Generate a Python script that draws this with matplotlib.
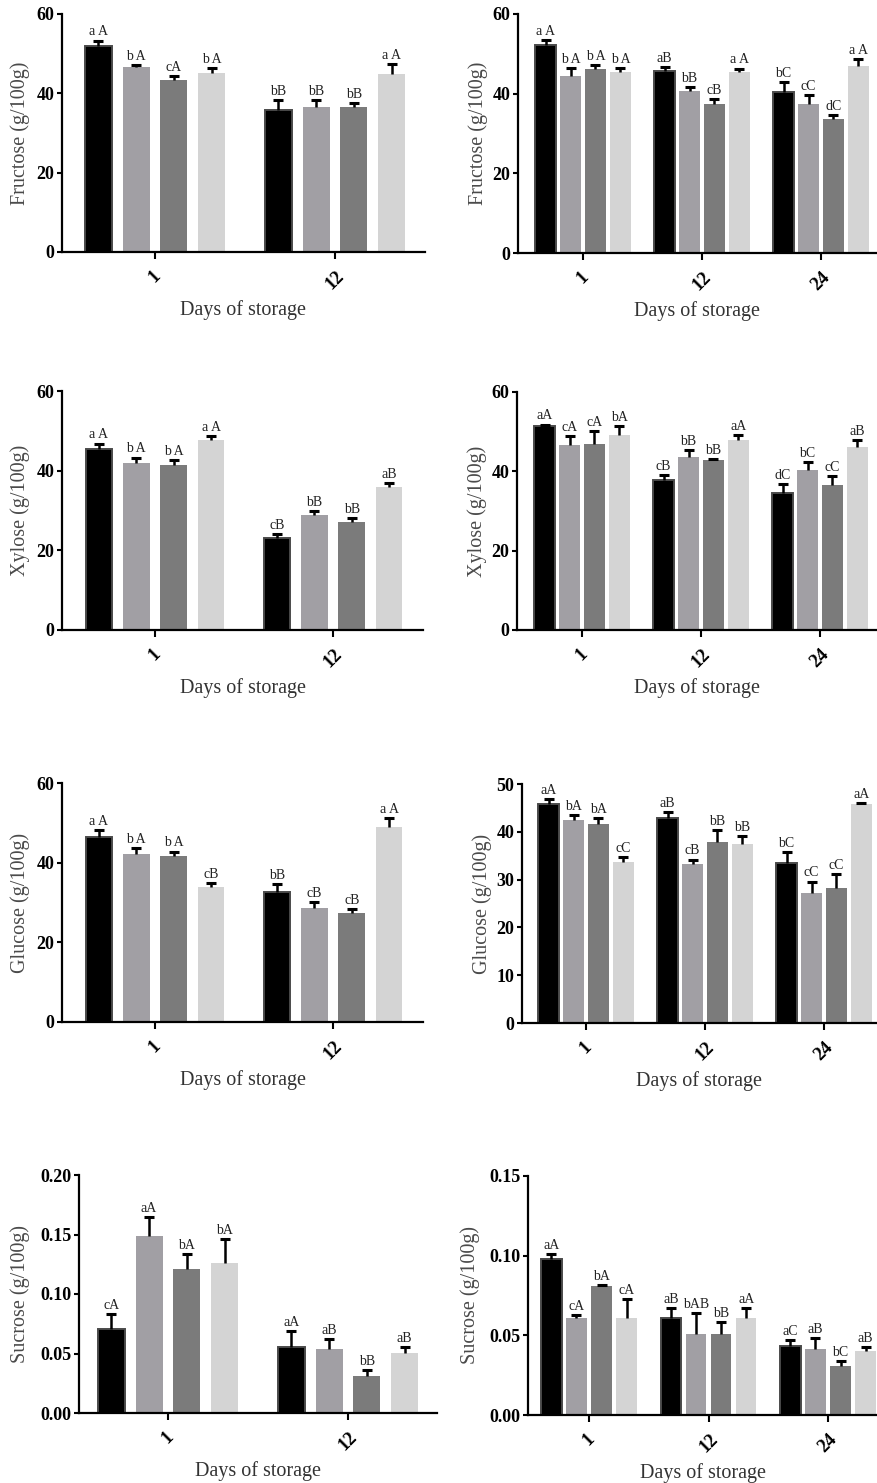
import numpy as np
import matplotlib
matplotlib.use('Agg')
import matplotlib.pyplot as plt

plt.rcParams['font.family'] = ['Liberation Serif', 'DejaVu Serif']

# ---- data ----
days_short = ['1', '12']
days_long = ['1', '12', '24']
bar_colors = ['#000000', '#a19fa4', '#7b7b7b', '#d4d4d4']

fru_left = [[52.0, 46.7, 43.4, 45.2], [35.8, 36.5, 36.5, 44.9]]
fru_left_err = [[1.3, 0.4, 1.0, 1.1], [2.5, 1.8, 1.0, 2.5]]
fru_left_lab = [['a A', 'b A', 'cA', 'b A'], ['bB', 'bB', 'bB', 'a A']]

fru_right = [[52.2, 44.4, 46.2, 45.4], [45.6, 40.6, 37.5, 45.4], [40.4, 37.5, 33.6, 46.9]]
fru_right_err = [[1.2, 2.0, 1.1, 1.1], [1.0, 1.0, 1.2, 0.9], [2.5, 2.2, 1.0, 1.8]]
fru_right_lab = [['a A', 'b A', 'b A', 'b A'], ['aB', 'bB', 'cB', 'a A'], ['bC', 'cC', 'dC', 'a A']]

xyl_left = [[45.5, 42.0, 41.4, 47.8], [23.1, 28.8, 27.1, 35.8]]
xyl_left_err = [[1.3, 1.3, 1.2, 1.0], [1.1, 1.1, 1.1, 1.0]]
xyl_left_lab = [['a A', 'b A', 'b A', 'a A'], ['cB', 'bB', 'bB', 'aB']]

xyl_right = [[51.5, 46.7, 47.0, 49.2], [37.8, 43.5, 42.8, 47.9], [34.6, 40.4, 36.5, 46.1]]
xyl_right_err = [[0.3, 2.3, 3.2, 2.3], [1.3, 1.8, 0.3, 1.3], [2.3, 2.0, 2.3, 1.7]]
xyl_right_lab = [['aA', 'cA', 'cA', 'bA'], ['cB', 'bB', 'bB', 'aA'], ['dC', 'bC', 'cC', 'aB']]

glu_left = [[46.4, 42.3, 41.6, 33.9], [32.6, 28.5, 27.3, 48.9]]
glu_left_err = [[1.9, 1.3, 1.2, 1.0], [2.0, 1.6, 1.0, 2.3]]
glu_left_lab = [['a A', 'b A', 'b A', 'cB'], ['bB', 'cB', 'cB', 'a A']]

glu_right = [[45.9, 42.4, 41.7, 33.7], [42.9, 33.2, 37.9, 37.4], [33.4, 27.2, 28.2, 45.9]]
glu_right_err = [[1.0, 1.1, 1.1, 1.0], [1.2, 1.0, 2.5, 1.7], [2.4, 2.4, 3.0, 0.2]]
glu_right_lab = [['aA', 'bA', 'bA', 'cC'], ['aB', 'cB', 'bB', 'bB'], ['bC', 'cC', 'cC', 'aA']]

suc_left = [[0.0705, 0.1488, 0.1208, 0.1259], [0.0554, 0.0537, 0.0308, 0.0506]]
suc_left_err = [[0.013, 0.016, 0.013, 0.020], [0.0134, 0.0087, 0.0056, 0.0045]]
suc_left_lab = [['cA', 'aA', 'bA', 'bA'], ['aA', 'aB', 'bB', 'aB']]

suc_right = [[0.0981, 0.0607, 0.0808, 0.0607], [0.0607, 0.0508, 0.0508, 0.0607],
             [0.0433, 0.0412, 0.0308, 0.0404]]
suc_right_err = [[0.003, 0.002, 0.001, 0.012], [0.0062, 0.0134, 0.0074, 0.0062],
                 [0.0038, 0.0069, 0.0033, 0.0021]]
suc_right_lab = [['aA', 'cA', 'bA', 'cA'], ['aB', 'bAB', 'bB', 'aA'], ['aC', 'aB', 'bC', 'aB']]

# ---- figure ----
W, H = 877, 1483
fig = plt.figure(figsize=(W / 100, H / 100), dpi=100)


def panel(box, t0, sp, days, vals, errs, labs, ylab, yticks, fmt, width):
    l, t, r, b = box
    ax = fig.add_axes([l / W, 1 - b / H, (r - l) / W, (b - t) / H])
    step = 0.21
    for g in range(len(days)):
        for k in range(4):
            x = g + (k - 1.5) * step
            v = vals[g][k]
            e = errs[g][k]
            ax.bar(x, v, width=width, color=bar_colors[k],
                   edgecolor='#4a4a4a' if k == 0 else 'none',
                   linewidth=1.4 if k == 0 else 0, zorder=2)
            eb = ax.errorbar(x, v, yerr=[[0], [e]], fmt='none', ecolor='black',
                             elinewidth=1.8, capsize=3.4, capthick=2.2, zorder=3)
            # one-sided bars: hide the cap sitting on the bar top
            eb.lines[1][0].set_visible(False)
            ax.annotate(labs[g][k], (x, v + e), xytext=(0, 1.5),
                        textcoords='offset points', ha='center', va='bottom',
                        fontsize=10, color='#222222')
    ax.set_xlim((l - t0) / sp, (r - t0) / sp)
    ax.set_ylim(yticks[0], yticks[-1])
    ax.set_yticks(yticks)
    ax.set_yticklabels([fmt.format(v) for v in yticks], fontweight='bold', fontsize=13)
    ax.set_xticks(range(len(days)))
    ax.set_xticklabels(days, rotation=45, ha='center', va='top',
                       fontweight='bold', fontsize=13.5)
    for s in ['top', 'right']:
        ax.spines[s].set_visible(False)
    for s in ['left', 'bottom']:
        ax.spines[s].set_linewidth(1.6)
    ax.tick_params(axis='y', length=3.5, width=1.5, pad=2)
    ax.tick_params(axis='x', length=5, width=1.5, pad=6)
    ax.set_ylabel(ylab, fontsize=14.5, color='#4a4a4a')
    ax.set_xlabel('Days of storage', fontsize=14.5, color='#333333')
    hpx = b - t
    ax.xaxis.set_label_coords(0.5, -58 / hpx)
    ax.xaxis.label.set_va('center')
    return ax


def yl(ax, box, xpx):
    l, t, r, b = box
    ax.yaxis.set_label_coords(-(l - xpx) / (r - l), 0.5)
    ax.yaxis.label.set_va('center')


t60 = [0, 20, 40, 60]

b1 = (62, 14, 425, 252)
a = panel(b1, 155, 180, days_short, fru_left, fru_left_err, fru_left_lab,
          'Fructose (g/100g)', t60, '{:.0f}', 0.15)
yl(a, b1, 20)
b2 = (518, 14, 877, 253)
a = panel(b2, 583, 119, days_long, fru_right, fru_right_err, fru_right_lab,
          'Fructose (g/100g)', t60, '{:.0f}', 0.17)
yl(a, b2, 478)

b3 = (62, 391, 423, 630)
a = panel(b3, 155, 178, days_short, xyl_left, xyl_left_err, xyl_left_lab,
          'Xylose (g/100g)', t60, '{:.0f}', 0.15)
yl(a, b3, 20)
b4 = (517, 392, 877, 630)
a = panel(b4, 582, 119, days_long, xyl_right, xyl_right_err, xyl_right_lab,
          'Xylose (g/100g)', t60, '{:.0f}', 0.17)
yl(a, b4, 477)

b5 = (62, 783, 423, 1022)
a = panel(b5, 155, 178, days_short, glu_left, glu_left_err, glu_left_lab,
          'Glucose (g/100g)', t60, '{:.0f}', 0.15)
yl(a, b5, 20)
b6 = (522, 784, 877, 1023)
a = panel(b6, 586, 119, days_long, glu_right, glu_right_err, glu_right_lab,
          'Glucose (g/100g)', [0, 10, 20, 30, 40, 50], '{:.0f}', 0.17)
yl(a, b6, 482)

b7 = (79, 1175, 437, 1413)
a = panel(b7, 168, 180, days_short, suc_left, suc_left_err, suc_left_lab,
          'Sucrose (g/100g)', [0, 0.05, 0.10, 0.15, 0.20], '{:.2f}', 0.15)
yl(a, b7, 20)
b8 = (528, 1176, 877, 1415)
a = panel(b8, 589, 119.5, days_long, suc_right, suc_right_err, suc_right_lab,
          'Sucrose (g/100g)', [0, 0.05, 0.10, 0.15], '{:.2f}', 0.17)
yl(a, b8, 470)

fig.savefig('out.png', dpi=100)
